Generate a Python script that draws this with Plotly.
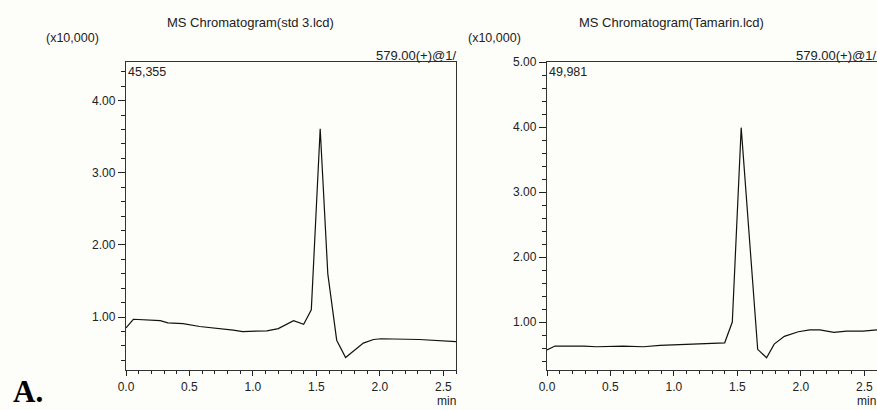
import plotly.graph_objects as go

# Left chromatogram (std 3.lcd): time (min) and intensity (x10,000)
std_time = [0.0, 0.058, 0.27, 0.33, 0.45, 0.58, 0.845, 0.92, 1.11, 1.20, 1.32, 1.40, 1.46, 1.53, 1.59, 1.66, 1.73, 1.87, 1.95, 2.01, 2.31, 2.47, 2.6]
std_int = [0.85, 0.97, 0.95, 0.92, 0.91, 0.87, 0.82, 0.80, 0.81, 0.84, 0.95, 0.90, 1.10, 3.61, 1.60, 0.68, 0.44, 0.64, 0.69, 0.70, 0.69, 0.67, 0.66]

# Right chromatogram (Tamarin.lcd)
tam_time = [0.0, 0.063, 0.29, 0.39, 0.60, 0.76, 0.89, 1.15, 1.40, 1.46, 1.53, 1.66, 1.73, 1.79, 1.87, 1.98, 2.07, 2.15, 2.26, 2.36, 2.49, 2.6]
tam_int = [0.57, 0.63, 0.63, 0.62, 0.63, 0.62, 0.64, 0.66, 0.68, 1.00, 3.99, 0.58, 0.45, 0.66, 0.78, 0.85, 0.88, 0.88, 0.84, 0.86, 0.86, 0.88]

titles = ["MS Chromatogram(std 3.lcd)", "MS Chromatogram(Tamarin.lcd)"]
max_labels = ["45,355", "49,981"]
channel = "579.00(+)@1/"

W, H = 877, 410
def px(x): return x / W
def py(y): return 1 - y / H

fig = go.Figure()
fig.add_trace(go.Scatter(x=std_time, y=std_int, mode="lines", line=dict(color="#111", width=1.2),
                         xaxis="x", yaxis="y", showlegend=False, hoverinfo="skip"))
fig.add_trace(go.Scatter(x=tam_time, y=tam_int, mode="lines", line=dict(color="#111", width=1.2),
                         xaxis="x2", yaxis="y2", showlegend=False, hoverinfo="skip"))

tickfont = dict(family="Liberation Sans, Arial", size=12, color="#222")
ydom = [py(370), py(62)]

def xax(dom, anchor):
    return dict(domain=dom, anchor=anchor, range=[0, 2.6], dtick=0.5, tick0=0, tickformat=".1f",
                ticks="outside", ticklen=5, tickcolor="#222", tickfont=tickfont,
                showline=True, linecolor="#333", linewidth=1.3, mirror=True, automargin=False,
                showgrid=False, zeroline=False, fixedrange=True,
                minor=dict(dtick=0.1, tick0=0, ticks="outside", ticklen=3, tickcolor="#222", showgrid=False))

def yax(rng, anchor):
    return dict(domain=ydom, anchor=anchor, range=rng, dtick=1, tick0=0, tickformat=".2f",
                ticks="outside", ticklen=7, tickcolor="#222", tickfont=tickfont,
                showline=True, linecolor="#333", linewidth=1.3, mirror=True, automargin=False,
                showgrid=False, zeroline=False, fixedrange=True,
                minor=dict(dtick=0.2, tick0=0, ticks="outside", ticklen=4, tickcolor="#222", showgrid=False))

fig.update_layout(
    width=W, height=H, margin=dict(l=0, r=0, t=0, b=0, pad=0),
    paper_bgcolor="#fdfdf9", plot_bgcolor="#fdfdf9",
    xaxis=xax([px(126), px(456)], "y"),
    yaxis=yax([0.267, 4.5355], "x"),
    xaxis2=xax([px(547), 1.0], "y2"),
    yaxis2=yax([0.262, 5.0001], "x2"),
)

def f(size):
    return dict(family="Liberation Sans, Arial", size=size, color="#222")

ann = [
    dict(text=titles[0], x=px(250), y=py(22), xanchor="center", yanchor="middle", font=f(13)),
    dict(text=titles[1], x=px(671), y=py(22), xanchor="center", yanchor="middle", font=f(13)),
    dict(text="(x10,000)", x=px(72), y=py(38), xanchor="center", yanchor="middle", font=f(12.5)),
    dict(text="(x10,000)", x=px(494), y=py(38), xanchor="center", yanchor="middle", font=f(12.5)),
    dict(text=channel, x=px(457), y=py(55), xanchor="right", yanchor="middle", font=f(13)),
    dict(text=channel, x=1.0, y=py(55), xanchor="right", yanchor="middle", font=f(13)),
    dict(text=max_labels[0], x=px(127), y=py(72), xanchor="left", yanchor="middle", font=f(12.5)),
    dict(text=max_labels[1], x=px(548), y=py(72), xanchor="left", yanchor="middle", font=f(12.5)),
    dict(text="min", x=px(457), y=py(401), xanchor="right", yanchor="middle", font=f(12)),
    dict(text="min", x=1.0, y=py(401), xanchor="right", yanchor="middle", font=f(12)),
]
for a in ann:
    a.update(xref="paper", yref="paper", showarrow=False, borderpad=0)
ann.append(dict(text="<b>A.</b>", x=px(12), y=0.0, xanchor="left", yanchor="bottom",
                xref="paper", yref="paper", showarrow=False, borderpad=0,
                font=dict(family="Liberation Serif, Times New Roman", size=31, color="#000")))
fig.update_layout(annotations=ann)

fig.write_html("out.html", config={"displayModeBar": False},
               post_script="document.body.style.margin='0';document.body.style.overflow='hidden';")
